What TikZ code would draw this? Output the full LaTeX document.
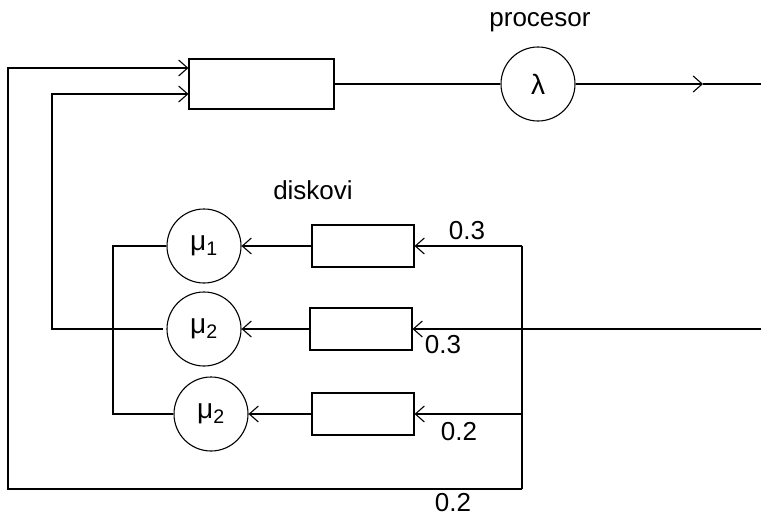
\documentclass[tikz,border=0pt]{standalone}
\usepackage{fontspec}
\setmainfont{Liberation Sans}
\usetikzlibrary{arrows.meta, positioning}

\begin{document}
\begin{tikzpicture}[
    x=1pt, y=-1pt,
    queue/.style={rectangle, draw, line width=1.1pt, inner sep=0pt},
    server/.style={circle, draw, line width=1.1pt, minimum size=74pt, inner sep=0pt, font=\fontsize{28}{32}\selectfont},
    arrow/.style={-{Straight Barb[length=9pt, width=16pt]}, line width=1.1pt},
    line/.style={line width=1.1pt},
    label/.style={font=\fontsize{26}{30}\selectfont, inner sep=0pt}
  ]
  \useasboundingbox (0,0) rectangle (761,517);

  % Processor
  \node[queue, minimum width=145pt, minimum height=50pt] (cpuq) at (261.5,84) {};
  \node[server] (cpu) at (538,84) {λ};
  \node[label] (cpulbl) at (540,22) {procesor};
  \coordinate (outmid) at (703,84);
  \coordinate (out) at (761,84);
  \draw[line] (cpuq.east) -- (cpu.west);
  \draw[arrow] (cpu.east) -- (outmid);
  \draw[line] (outmid) -- (out);

  % Disks
  \node[label] (disklbl) at (313,190) {diskovi};
  \node[queue, minimum width=102pt, minimum height=42pt] (dq1) at (363,246) {};
  \node[queue, minimum width=102pt, minimum height=42pt] (dq2) at (361,329) {};
  \node[queue, minimum width=102pt, minimum height=42pt] (dq3) at (363,414) {};
  \node[server] (d1) at (204,246) {μ\textsubscript{1}};
  \node[server] (d2) at (204,329) {μ\textsubscript{2}};
  \node[server] (d3) at (211,414) {μ\textsubscript{2}};
  \draw[arrow] (dq1.west) -- (d1.east);
  \draw[arrow] (dq2.west) -- (d2.east);
  \draw[arrow] (dq3.west) -- (d3.east);

  % Branching to disks
  \coordinate (rtop) at (522,246);
  \coordinate (rbot) at (522,489);
  \coordinate (in2) at (761,329);
  \draw[line] (rtop) -- (rbot);
  \draw[arrow] (rtop) -- (dq1.east);
  \draw[arrow] (rtop |- dq3) -- (dq3.east);
  \draw[arrow] (in2) -- (dq2.east);
  \node[label] (p1) at (467,231) {0.3};
  \node[label] (p2) at (443,345) {0.3};
  \node[label] (p3) at (459,432) {0.2};
  \node[label] (p4) at (453,503) {0.2};

  % Feedback loops
  \coordinate (lbus) at (113,0);
  \coordinate (fbin) at (52,94);
  \coordinate (fbout) at (8,68);
  \draw[line] (d1.west) -| (lbus |- d3.west) -- (d3.west);
  \draw[arrow] ([xshift=-3pt]d2.west) -| (fbin) -- (fbin -| cpuq.west);
  \draw[arrow] (rbot) -| (fbout) -- (fbout -| cpuq.west);

\end{tikzpicture}
\end{document}
